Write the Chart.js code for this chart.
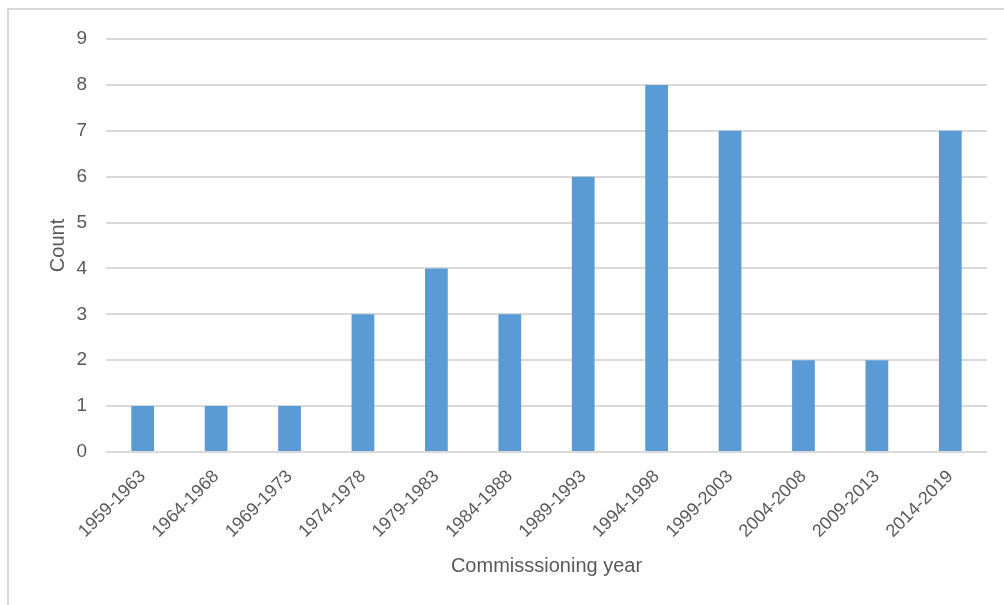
<!DOCTYPE html>
<html>
<head>
<meta charset="utf-8">
<script src="https://cdn.jsdelivr.net/npm/chart.js@4/dist/chart.umd.min.js"></script>
<style>
  html, body { margin: 0; padding: 0; background: #fff; overflow: hidden; }
  #wrap { position: relative; width: 1004px; height: 605px; overflow: hidden; }
  #frame { position: absolute; left: 7px; top: 8px; width: 1100px; height: 700px;
           border-left: 2px solid #d9d9d9; border-top: 2px solid #d9d9d9; }
  canvas { position: absolute; left: 0; top: 0; }
</style>
</head>
<body>
<div id="wrap">
  <div id="frame"></div>
  <canvas id="grafico" width="1004" height="605"></canvas>
</div>
<script>
// categorias (anos de comissionamento) e contagens
const periodos = ['1959-1963', '1964-1968', '1969-1973', '1974-1978', '1979-1983', '1984-1988',
                  '1989-1993', '1994-1998', '1999-2003', '2004-2008', '2009-2013', '2014-2019'];
const contagens = [1, 1, 1, 3, 4, 3, 6, 8, 7, 2, 2, 7];
const yMax = 9;

const fonte = '"Liberation Sans Narrow", "Arial Narrow", "Liberation Sans", Arial, sans-serif';
const cinzaTexto = '#595959';
const cinzaGrelha = '#d9d9d9';

Chart.defaults.font.family = fonte;
Chart.defaults.color = cinzaTexto;

new Chart(document.getElementById('grafico'), {
  type: 'bar',
  data: {
    labels: periodos,
    datasets: [{ data: contagens, backgroundColor: '#5b9bd5',
                 categoryPercentage: 1, barPercentage: 0.31 }]
  },
  options: {
    responsive: false,
    animation: false,
    layout: { padding: { left: 0, right: 17, top: 39, bottom: 27 } },
    plugins: { legend: { display: false }, tooltip: { enabled: false } },
    scales: {
      x: {
        grid: { display: false },
        border: { display: false },
        ticks: { font: { size: 18 }, color: cinzaTexto, minRotation: 45, maxRotation: 45, padding: 6 },
        title: { display: true, text: 'Commisssioning year', font: { size: 20 }, color: cinzaTexto, padding: { top: 0, bottom: 0 } },
        afterFit: (s) => { s.height = 605 - 452 - 27; }
      },
      y: {
        min: 0, max: yMax,
        grid: { color: cinzaGrelha, lineWidth: 2, drawTicks: false },
        border: { display: false },
        ticks: { stepSize: 1, font: { size: 19 }, color: cinzaTexto, padding: 19 },
        title: { display: true, text: 'Count', font: { size: 20 }, color: cinzaTexto, padding: { top: 46, bottom: 0 } },
        afterFit: (s) => { s.width = 106; }
      }
    }
  }
});
</script>
</body>
</html>
